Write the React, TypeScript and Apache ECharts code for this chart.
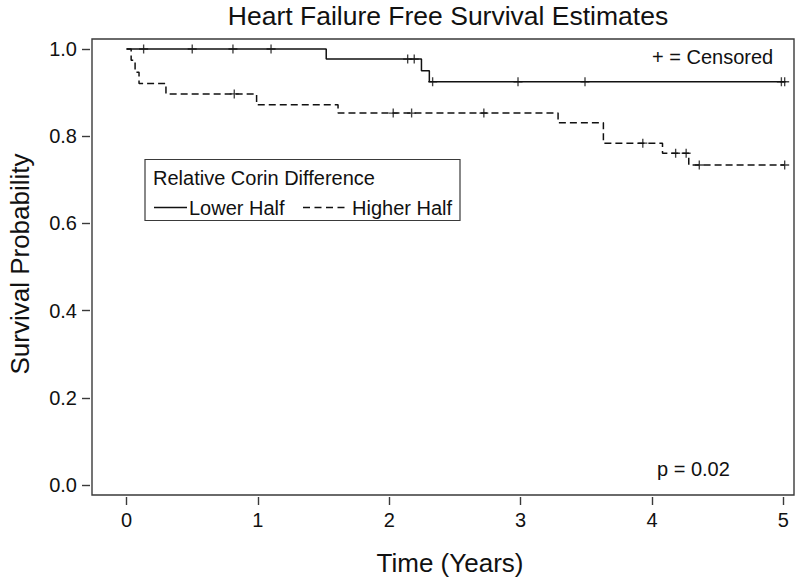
import React, { useEffect, useRef } from "react";
import * as echarts from "echarts";

// ---- tick values ----
const xTicks = [0, 1, 2, 3, 4, 5];
const yTicks = [0, 0.2, 0.4, 0.6, 0.8, 1.0];

// ---- Lower Half (solid) ----
const lowerEventTimes = [1.52, 2.245, 2.305];
const lowerSurvival = [0.977, 0.95, 0.925];
const lowerCensorTimes = [0.13, 0.5, 0.81, 1.1, 2.14, 2.19, 2.33, 2.98, 3.49, 4.985, 5.01];
const lowerEndTime = 5.01;

// ---- Higher Half (dashed) ----
const higherEventTimes = [0.035, 0.065, 0.095, 0.3, 0.99, 1.61, 3.285, 3.63, 4.08, 4.28];
const higherSurvival = [0.974, 0.947, 0.921, 0.897, 0.872, 0.853, 0.831, 0.784, 0.761, 0.734];
const higherCensorTimes = [0.82, 2.03, 2.17, 2.72, 3.93, 4.18, 4.26, 4.36, 5.01];
const higherEndTime = 5.01;

const seriesNames = ["Lower Half", "Higher Half"];

function stepPoints(times: number[], surv: number[], end: number) {
  const pts: number[][] = [[0, 1]];
  let s = 1;
  times.forEach((t, i) => {
    pts.push([t, s]);
    s = surv[i];
    pts.push([t, s]);
  });
  pts.push([end, s]);
  return pts;
}

function survAt(times: number[], surv: number[], t: number) {
  let s = 1;
  times.forEach((et, i) => {
    if (et <= t) s = surv[i];
  });
  return s;
}

const FONT = "'Liberation Sans', Arial, Helvetica, sans-serif";
const NARROW = "'Liberation Sans Narrow', 'Arial Narrow', 'Liberation Sans', Arial, sans-serif";
const INK = "#111111";
const FRAME = "#3a3a3a";
const PLUS = "path://M4.25,0H5.75V4.25H10V5.75H5.75V10H4.25V5.75H0V4.25H4.25Z";

export default function App() {
  const ref = useRef<HTMLDivElement>(null);

  useEffect(() => {
    if (!ref.current) return;
    const chart = echarts.init(ref.current, null, { renderer: "svg" });

    const lowerLine = stepPoints(lowerEventTimes, lowerSurvival, lowerEndTime);
    const higherLine = stepPoints(higherEventTimes, higherSurvival, higherEndTime);
    const lowerCens = lowerCensorTimes.map((t) => [t, survAt(lowerEventTimes, lowerSurvival, t)]);
    const higherCens = higherCensorTimes.map((t) => [t, survAt(higherEventTimes, higherSurvival, t)]);

    const option: any = {
      animation: false,
      backgroundColor: "#ffffff",
      textStyle: { fontFamily: FONT },
      grid: {
        left: 92,
        right: 6,
        top: 39,
        bottom: 88,
        show: true,
        borderColor: FRAME,
        borderWidth: 1.4,
        backgroundColor: "transparent",
      },
      xAxis: {
        type: "value",
        min: -0.263,
        max: 5.081,
        offset: 2,
        axisLine: { show: false, onZero: false },
        splitLine: { show: false },
        axisTick: {
          show: true,
          customValues: xTicks,
          length: 8,
          lineStyle: { color: FRAME, width: 1.4 },
        },
        axisLabel: {
          customValues: xTicks,
          fontSize: 20,
          color: INK,
          margin: 13,
          fontFamily: NARROW,
        },
      },
      yAxis: {
        type: "value",
        min: -0.023,
        max: 1.023,
        offset: 2,
        axisLine: { show: false, onZero: false },
        splitLine: { show: false },
        axisTick: {
          show: true,
          customValues: yTicks,
          length: 8,
          lineStyle: { color: FRAME, width: 1.4 },
        },
        axisLabel: {
          customValues: yTicks,
          fontSize: 20,
          color: INK,
          margin: 13,
          fontFamily: NARROW,
          formatter: (v: number) => v.toFixed(1),
        },
      },
      series: [
        {
          name: seriesNames[0],
          type: "line",
          data: lowerLine,
          showSymbol: false,
          symbol: "none",
          silent: true,
          lineStyle: { color: INK, width: 1.5, type: "solid" },
          z: 3,
        },
        {
          name: seriesNames[1],
          type: "line",
          data: higherLine,
          showSymbol: false,
          symbol: "none",
          silent: true,
          lineStyle: { color: INK, width: 1.5, type: [7, 4] },
          z: 3,
        },
        {
          name: seriesNames[0] + " censored",
          type: "scatter",
          data: lowerCens,
          symbol: PLUS,
          symbolSize: 9,
          silent: true,
          itemStyle: { color: INK },
          z: 4,
        },
        {
          name: seriesNames[1] + " censored",
          type: "scatter",
          data: higherCens,
          symbol: PLUS,
          symbolSize: 9,
          silent: true,
          itemStyle: { color: INK },
          z: 4,
        },
      ],
      graphic: [
        {
          type: "text",
          x: 448,
          y: 16,
          style: {
            text: "Heart Failure Free Survival Estimates",
            font: `26.5px ${FONT}`,
            fill: INK,
            align: "center",
            verticalAlign: "middle",
          },
        },
        {
          type: "text",
          x: 450,
          y: 563,
          style: {
            text: "Time (Years)",
            font: `26px ${FONT}`,
            fill: INK,
            align: "center",
            verticalAlign: "middle",
          },
        },
        {
          type: "text",
          x: 20,
          y: 264,
          rotation: Math.PI / 2,
          style: {
            text: "Survival Probability",
            font: `26px ${FONT}`,
            fill: INK,
            align: "center",
            verticalAlign: "middle",
          },
        },
        {
          type: "text",
          x: 652,
          y: 57,
          style: {
            text: "+ = Censored",
            font: `20px ${FONT}`,
            fill: INK,
            align: "left",
            verticalAlign: "middle",
          },
        },
        {
          type: "text",
          x: 657,
          y: 469,
          style: {
            text: "p = 0.02",
            font: `20px ${FONT}`,
            fill: INK,
            align: "left",
            verticalAlign: "middle",
          },
        },
        // legend box
        {
          type: "rect",
          shape: { x: 145, y: 159.5, width: 315, height: 61 },
          style: { fill: "#ffffff", stroke: FRAME, lineWidth: 1.2 },
          z: 10,
        },
        {
          type: "text",
          x: 153,
          y: 177.5,
          z: 11,
          style: {
            text: "Relative Corin Difference",
            font: `20px ${FONT}`,
            fill: INK,
            align: "left",
            verticalAlign: "middle",
          },
        },
        {
          type: "line",
          shape: { x1: 154, y1: 207.5, x2: 187, y2: 207.5 },
          style: { stroke: INK, lineWidth: 1.5 },
          z: 11,
        },
        {
          type: "text",
          x: 189,
          y: 208,
          z: 11,
          style: {
            text: seriesNames[0],
            font: `20px ${FONT}`,
            fill: INK,
            align: "left",
            verticalAlign: "middle",
          },
        },
        {
          type: "line",
          shape: { x1: 303, y1: 207.5, x2: 347, y2: 207.5 },
          style: { stroke: INK, lineWidth: 1.5, lineDash: [7, 4.5] },
          z: 11,
        },
        {
          type: "text",
          x: 352,
          y: 208,
          z: 11,
          style: {
            text: seriesNames[1],
            font: `20px ${FONT}`,
            fill: INK,
            align: "left",
            verticalAlign: "middle",
          },
        },
      ],
    };

    chart.setOption(option);
    return () => chart.dispose();
  }, []);

  return (
    <div
      ref={ref}
      style={{ position: "fixed", left: 0, top: 0, width: 800, height: 583, background: "#fff" }}
    />
  );
}
